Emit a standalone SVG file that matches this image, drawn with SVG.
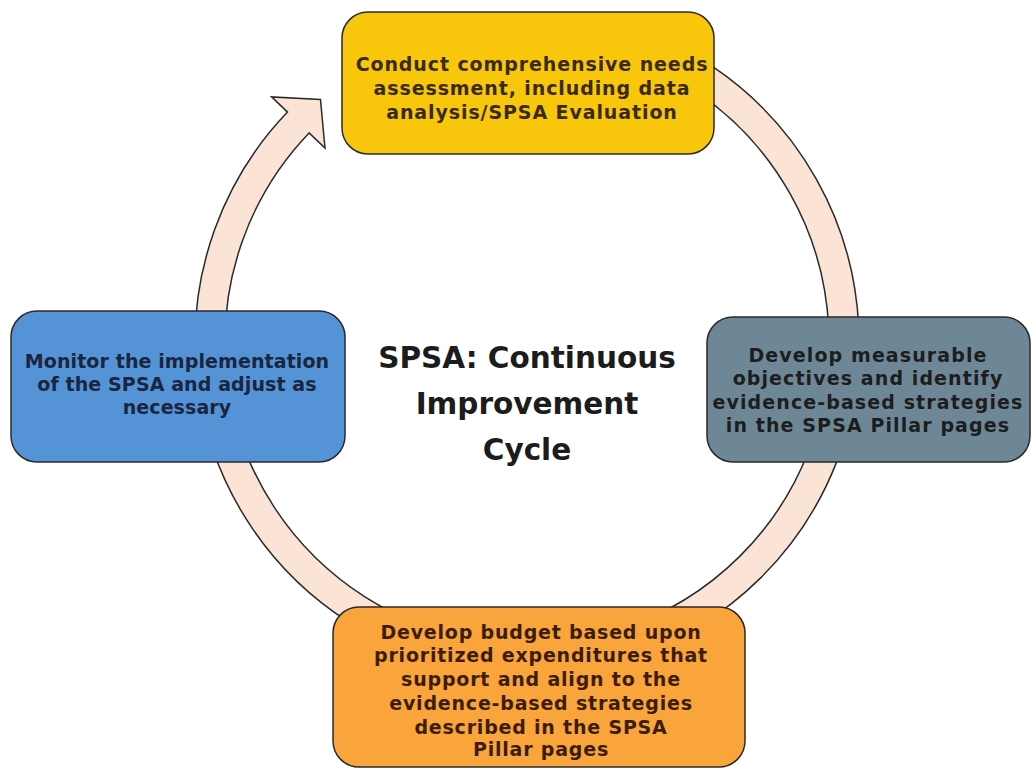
<svg xmlns="http://www.w3.org/2000/svg" width="1032" height="770" viewBox="0 0 1032 770">
<style>
.box{stroke:#2a2a2a;stroke-width:1.5}
.t{font-family:"DejaVu Sans","Open Sans",sans-serif;font-weight:bold;font-size:19px;text-anchor:middle}
.title{font-family:"DejaVu Sans","Open Sans",sans-serif;font-weight:bold;font-size:29.5px;text-anchor:middle;fill:#1c1c1c}
</style>
<rect width="1032" height="770" fill="#ffffff"/>
<g id="connectors">
<path d="M 584.6 15.0 A 332 332 0 1 1 287.5 112.1 L 271.6 96.9 L 320.5 99.4 L 325.0 148.1 L 309.1 132.9 A 302 302 0 1 0 579.4 44.6 Z" fill="#fbe4d6" stroke="#2a2a2a" stroke-width="1.5" stroke-linejoin="miter"/>
</g>
<g id="node-assess">
<rect class="box" x="342" y="12" width="372" height="142" rx="26" fill="#f8c70c"/>
<text class="t" fill="#3a2a10" letter-spacing="0.9"><tspan x="532" y="71">Conduct comprehensive needs</tspan><tspan x="532" y="95">assessment, including data</tspan><tspan x="532" y="119">analysis/SPSA Evaluation</tspan></text>
</g>
<g id="node-objectives">
<rect class="box" x="707" y="317" width="323" height="145" rx="26" fill="#6e8797"/>
<text class="t" fill="#1d1d1d" letter-spacing="1.1"><tspan x="868" y="362">Develop measurable</tspan><tspan x="868" y="385">objectives and identify</tspan><tspan x="868" y="409">evidence-based strategies</tspan><tspan x="868" y="432">in the SPSA Pillar pages</tspan></text>
</g>
<g id="node-budget">
<rect class="box" x="333" y="607" width="412" height="160" rx="26" fill="#f9a53b"/>
<text class="t" fill="#3b1d0a" letter-spacing="0.8"><tspan x="541" y="639">Develop budget based upon</tspan><tspan x="541" y="662">prioritized expenditures that</tspan><tspan x="541" y="686">support and align to the</tspan><tspan x="541" y="710">evidence-based strategies</tspan><tspan x="541" y="734">described in the SPSA</tspan><tspan x="541" y="756">Pillar pages</tspan></text>
</g>
<g id="node-monitor">
<rect class="box" x="11" y="311" width="334" height="151" rx="26" fill="#5593d7"/>
<text class="t" fill="#1a2540" letter-spacing="0.1"><tspan x="177" y="368">Monitor the implementation</tspan><tspan x="177" y="391">of the SPSA and adjust as</tspan><tspan x="177" y="414">necessary</tspan></text>
</g>
<g id="center-title">
<text class="title"><tspan x="527" y="368">SPSA: Continuous</tspan><tspan x="527" y="414">Improvement</tspan><tspan x="527" y="460">Cycle</tspan></text>
</g>
</svg>
